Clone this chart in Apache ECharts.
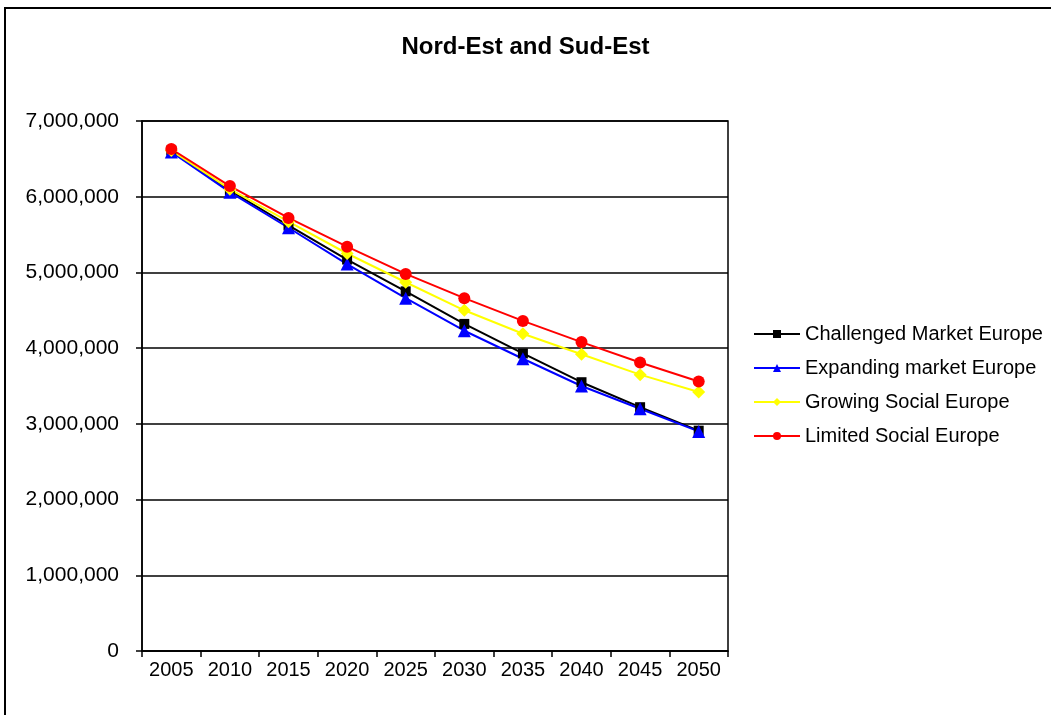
<!DOCTYPE html>
<html>
<head>
<meta charset="utf-8">
<script src="https://cdn.jsdelivr.net/npm/echarts@6/dist/echarts.min.js"></script>
<style>
html, body { margin: 0; padding: 0; background: #fff; }
#chart { width: 1051px; height: 715px; }
</style>
</head>
<body>
<div id="chart"></div>
<script>
var years = ['2005', '2010', '2015', '2020', '2025', '2030', '2035', '2040', '2045', '2050'];
var challengedMarket = [6610000, 6080000, 5620000, 5170000, 4750000, 4320000, 3930000, 3550000, 3220000, 2910000];
var expandingMarket = [6590000, 6060000, 5590000, 5110000, 4660000, 4230000, 3860000, 3500000, 3200000, 2900000];
var growingSocial = [6610000, 6100000, 5670000, 5250000, 4870000, 4500000, 4190000, 3920000, 3650000, 3420000];
var limitedSocial = [6630000, 6140000, 5720000, 5340000, 4980000, 4660000, 4360000, 4080000, 3810000, 3560000];

var font = 'Liberation Sans, Arial, sans-serif';
var chart = echarts.init(document.getElementById('chart'));

function lineSeries(name, data, color, symbol, size) {
    return {
        name: name,
        type: 'line',
        data: data,
        symbol: symbol,
        symbolSize: size,
        showSymbol: true,
        animation: false,
        itemStyle: { color: color },
        lineStyle: { color: color, width: 2 }
    };
}

chart.setOption({
    backgroundColor: '#fff',
    animation: false,
    textStyle: { fontFamily: font },
    title: {
        text: 'Nord-Est and Sud-Est',
        left: 'center',
        top: 35,
        padding: 0,
        textStyle: { fontFamily: font, fontSize: 24, fontWeight: 'bold', color: '#000' }
    },
    graphic: [{
        type: 'rect',
        shape: { x: 5, y: 8, width: 1100, height: 800 },
        style: { fill: 'none', stroke: '#000', lineWidth: 2 },
        silent: true
    }],
    legend: {
        orient: 'vertical',
        left: 753,
        top: 324,
        itemWidth: 46,
        itemHeight: 10,
        itemGap: 14,
        padding: 0,
        data: ['Challenged Market Europe', 'Expanding market Europe', 'Growing Social Europe', 'Limited Social Europe'],
        textStyle: { fontFamily: font, fontSize: 20, color: '#000' }
    },
    grid: {
        left: 142,
        right: 323,
        top: 121,
        bottom: 64,
        show: true,
        borderColor: '#000',
        borderWidth: 1.5,
        containLabel: false
    },
    xAxis: {
        type: 'category',
        data: years,
        boundaryGap: true,
        axisLine: { lineStyle: { color: '#000', width: 1.5 } },
        axisTick: { show: true, length: 6, inside: false, lineStyle: { color: '#000', width: 1.5 } },
        axisLabel: { color: '#000', fontSize: 20, margin: 9, fontFamily: font, interval: 0 },
        splitLine: { show: false }
    },
    yAxis: {
        type: 'value',
        min: 0,
        max: 7000000,
        interval: 1000000,
        axisLine: { show: true, lineStyle: { color: '#000', width: 1.5 } },
        axisTick: { show: true, length: 6, lineStyle: { color: '#000', width: 1.5 } },
        axisLabel: {
            color: '#000',
            fontSize: 21,
            margin: 23,
            fontFamily: font,
            formatter: function (v) { return v.toLocaleString('en-US'); }
        },
        splitLine: { show: true, lineStyle: { color: '#000', width: 1.5 } }
    },
    series: [
        lineSeries('Challenged Market Europe', challengedMarket, '#000000', 'rect', 10),
        lineSeries('Expanding market Europe', expandingMarket, '#0000ff', 'triangle', 13),
        lineSeries('Growing Social Europe', growingSocial, '#ffff00', 'diamond', 13),
        lineSeries('Limited Social Europe', limitedSocial, '#ff0000', 'circle', 12)
    ]
});
</script>
</body>
</html>
